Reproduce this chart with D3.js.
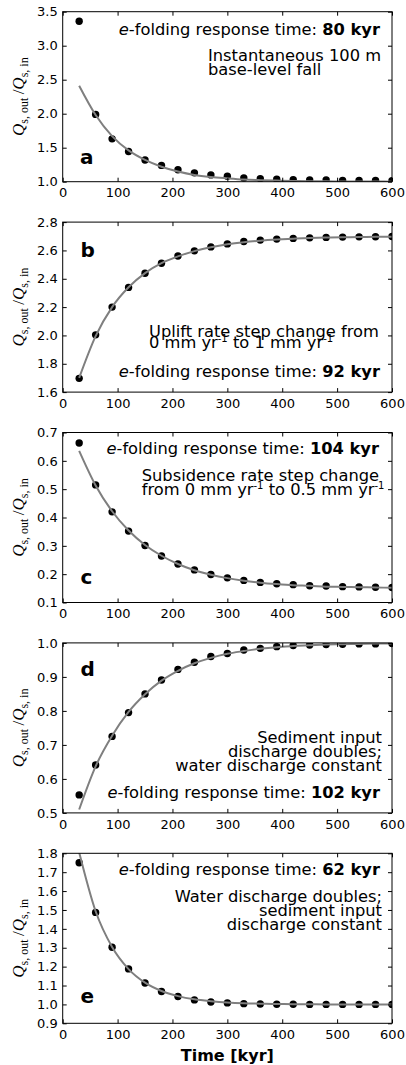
<!DOCTYPE html>
<html>
<head>
<meta charset="utf-8">
<script src="https://cdn.jsdelivr.net/npm/d3@7"></script>
<style>
  body { margin: 0; background: #fff; }
  svg { display: block; }
</style>
</head>
<body>
<svg id="chart" width="406" height="1065"></svg>
<script>
// model output times [kyr]
const timeKyr = [30, 60, 90, 120, 150, 180, 210, 240, 270, 300, 330, 360, 390, 420, 450, 480, 510, 540, 570, 600]

// Qs,out / Qs,in from the model (dots) and the e-folding fit (grey line)
const modelA = [3.36, 1.99, 1.63, 1.445, 1.32, 1.24, 1.176, 1.13, 1.10, 1.08, 1.055, 1.045, 1.035, 1.029, 1.025, 1.025, 1.02, 1.02, 1.02, 1.015]
const fitA = [2.41, 1.98, 1.67, 1.46, 1.32, 1.22, 1.15, 1.10, 1.07, 1.05, 1.033, 1.023, 1.016, 1.011, 1.008, 1.005, 1.004, 1.003, 1.002, 1.001]

const modelB = [1.697, 2.004, 2.20, 2.339, 2.439, 2.51, 2.561, 2.597, 2.625, 2.646, 2.663, 2.673, 2.68, 2.685, 2.689, 2.692, 2.694, 2.696, 2.697, 2.698]
const fitB = [1.70, 1.995, 2.20, 2.34, 2.44, 2.51, 2.558, 2.595, 2.622, 2.643, 2.658, 2.669, 2.677, 2.683, 2.688, 2.691, 2.693, 2.695, 2.696, 2.697]

const modelC = [0.663, 0.515, 0.42, 0.352, 0.301, 0.264, 0.236, 0.215, 0.199, 0.187, 0.178, 0.171, 0.166, 0.163, 0.159, 0.158, 0.156, 0.155, 0.154, 0.153]
const fitC = [0.635, 0.513, 0.422, 0.354, 0.303, 0.265, 0.236, 0.214, 0.198, 0.186, 0.177, 0.170, 0.165, 0.161, 0.159, 0.156, 0.155, 0.154, 0.153, 0.152]

const modelD = [0.553, 0.641, 0.725, 0.795, 0.850, 0.891, 0.922, 0.943, 0.960, 0.969, 0.979, 0.984, 0.989, 0.992, 0.994, 0.995, 0.996, 0.997, 0.997, 0.998]
const fitD = [0.51, 0.637, 0.727, 0.797, 0.849, 0.889, 0.918, 0.940, 0.956, 0.968, 0.976, 0.983, 0.987, 0.991, 0.993, 0.995, 0.996, 0.997, 0.998, 0.998]

const modelE = [1.750, 1.487, 1.303, 1.188, 1.113, 1.068, 1.042, 1.024, 1.013, 1.008, 1.004, 1.002, 1.001, 1.001, 1.0, 1.0, 1.0, 1.0, 1.0, 1.0]
const fitE = [1.805, 1.493, 1.304, 1.187, 1.115, 1.071, 1.044, 1.027, 1.017, 1.010, 1.006, 1.004, 1.002, 1.0015, 1.001, 1.0, 1.0, 1.0, 1.0, 1.0]

const panelLetters = ['a', 'b', 'c', 'd', 'e']
const efoldKyr = [80, 92, 104, 102, 62]
const yDomains = [[1.0, 3.5], [1.6, 2.8], [0.1, 0.7], [0.5, 1.0], [0.9, 1.8]]
const yTickValues = [
  [1.0, 1.5, 2.0, 2.5, 3.0, 3.5],
  [1.6, 1.8, 2.0, 2.2, 2.4, 2.6, 2.8],
  [0.1, 0.2, 0.3, 0.4, 0.5, 0.6, 0.7],
  [0.5, 0.6, 0.7, 0.8, 0.9, 1.0],
  [0.9, 1.0, 1.1, 1.2, 1.3, 1.4, 1.5, 1.6, 1.7, 1.8]
]
const xTickValues = [0, 100, 200, 300, 400, 500, 600]
const descLines = [
  ['Instantaneous 100 m', 'base-level fall'],
  ['Uplift rate step change from', '0 mm yr^-1 to 1 mm yr^-1'],
  ['Subsidence rate step change', 'from 0 mm yr^-1 to 0.5 mm yr^-1'],
  ['Sediment input', 'discharge doubles;', 'water discharge constant'],
  ['Water discharge doubles;', 'sediment input', 'discharge constant']
]
const xLabel = 'Time [kyr]'

const modelSeries = [modelA, modelB, modelC, modelD, modelE]
const fitSeries = [fitA, fitB, fitC, fitD, fitE]

// text placement inside each panel (y relative to panel top)
const layout = [
  { efold: [380, 23.3], desc: { x: 208, anchor: 'start', y: 49.3, lh: 13.5 }, letter: [80, 152.7] },
  { efold: [380, 155], desc: { x: 149, anchor: 'start', y: 114.4, lh: 11.6 }, letter: [80.5, 34.4] },
  { efold: [379, 21.7], desc: { x: 141.7, anchor: 'start', y: 48.4, lh: 13.8 }, letter: [80.5, 151] },
  { efold: [380, 155], desc: { x: 382, anchor: 'end', y: 100, lh: 14.1 }, letter: [80.5, 33.4] },
  { efold: [380, 21.7], desc: { x: 382, anchor: 'end', y: 48.4, lh: 14.3 }, letter: [80.5, 150] }
]

const SANS = 'DejaVu Sans, sans-serif'
const SERIF = 'Liberation Serif, DejaVu Serif, serif'
const left = 62.7
const right = 392
const plotH = 170
const top0 = 11.7
const step = 210.4

const svg = d3.select('#chart')

const x = d3.scaleLinear().domain([0, 600]).range([left, right])

// one <text> per block, a tspan row per line; "^-1" marks a superscript
const addLines = (sel, lines, xPos, lh) => {
  lines.forEach((str, k) => {
    const parts = str.split(/(\^-1)/).filter(p => p)
    let shift = 0
    parts.forEach((p, j) => {
      const t = sel.append('tspan')
      if (j === 0) t.attr('x', xPos).attr('dy', k === 0 ? 0 : lh - shift)
      if (p === '^-1') {
        t.attr('font-size', 10).attr('dy', -6).text('-1')
        shift = -6
      } else {
        if (j > 0 && shift) { t.attr('dy', 6); shift = 0 }
        t.text(p)
      }
    })
  })
}

panelLetters.forEach((letter, i) => {
  const top = top0 + i * step
  const bottom = top + plotH
  const y = d3.scaleLinear().domain(yDomains[i]).range([bottom, top])
  const g = svg.append('g')
  const lay = layout[i]

  const clipId = `clip-${i}`
  svg.append('clipPath').attr('id', clipId)
    .append('rect')
    .attr('x', left).attr('y', top)
    .attr('width', right - left).attr('height', plotH)

  const pts = timeKyr.map((t, k) => ({ t, v: modelSeries[i][k], f: fitSeries[i][k] }))

  // model dots
  g.append('g').attr('clip-path', `url(#${clipId})`)
    .selectAll('circle').data(pts).enter()
    .append('circle')
    .attr('cx', d => x(d.t))
    .attr('cy', d => y(d.v))
    .attr('r', 3.7)
    .attr('fill', '#000')

  // e-folding fit
  const line = d3.line().x(d => x(d.t)).y(d => y(d.f)).curve(d3.curveMonotoneX)
  g.append('path')
    .datum(pts)
    .attr('clip-path', `url(#${clipId})`)
    .attr('d', line)
    .attr('fill', 'none')
    .attr('stroke', '#7f7f7f')
    .attr('stroke-width', 2)

  // axes, ticks pointing inward on all four sides
  const styleAxis = ax => {
    ax.select('.domain').remove()
    ax.selectAll('line').attr('stroke', '#000').attr('stroke-width', 1)
    ax.selectAll('text').attr('font-family', SANS).attr('font-size', 13).attr('fill', '#000')
  }
  g.append('g').attr('transform', `translate(0,${bottom})`)
    .call(d3.axisBottom(x).tickValues(xTickValues).tickSize(-4).tickPadding(6.4).tickFormat(d3.format('d')))
    .call(styleAxis)
  g.append('g').attr('transform', `translate(0,${top})`)
    .call(d3.axisTop(x).tickValues(xTickValues).tickSize(-4).tickFormat(''))
    .call(styleAxis)
  g.append('g').attr('transform', `translate(${left},0)`)
    .call(d3.axisLeft(y).tickValues(yTickValues[i]).tickSize(-4).tickPadding(5).tickFormat(d3.format('.1f')))
    .call(styleAxis)
  g.append('g').attr('transform', `translate(${right},0)`)
    .call(d3.axisRight(y).tickValues(yTickValues[i]).tickSize(-4).tickFormat(''))
    .call(styleAxis)

  g.append('rect')
    .attr('x', left).attr('y', top)
    .attr('width', right - left).attr('height', plotH)
    .attr('fill', 'none').attr('stroke', '#000').attr('stroke-width', 1)

  // y label  Q_s,out / Q_s,in
  const cy = top + plotH / 2
  const yl = g.append('text')
    .attr('transform', `translate(24,${cy}) rotate(-90)`)
    .attr('text-anchor', 'middle')
    .attr('font-family', SERIF)
    .attr('fill', '#000')
  yl.append('tspan').attr('font-style', 'italic').attr('font-size', 17).text('Q')
  yl.append('tspan').attr('font-size', 12).attr('dy', 3.5).text('s, out')
  yl.append('tspan').attr('font-size', 17).attr('dy', -3.5).text('\u2009/')
  yl.append('tspan').attr('font-style', 'italic').attr('font-size', 17).text('Q')
  yl.append('tspan').attr('font-size', 12).attr('dy', 3.5).text('s, in')

  // panel letter
  g.append('text')
    .attr('x', lay.letter[0]).attr('y', top + lay.letter[1])
    .attr('font-family', SANS).attr('font-weight', 'bold').attr('font-size', 20)
    .text(letter)

  // e-folding response time
  const ef = g.append('text')
    .attr('x', lay.efold[0]).attr('y', top + lay.efold[1])
    .attr('text-anchor', 'end')
    .attr('font-family', SANS).attr('font-size', 16.3).attr('fill', '#000')
  ef.append('tspan').attr('font-style', 'italic').text('e')
  ef.append('tspan').text('-folding response time: ')
  ef.append('tspan').attr('font-weight', 'bold').text(`${efoldKyr[i]} kyr`)

  // scenario description
  const desc = g.append('text')
    .attr('x', lay.desc.x).attr('y', top + lay.desc.y)
    .attr('text-anchor', lay.desc.anchor)
    .attr('font-family', SANS).attr('font-size', 16.3).attr('fill', '#000')
  addLines(desc, descLines[i], lay.desc.x, lay.desc.lh)

  if (i === panelLetters.length - 1) {
    g.append('text')
      .attr('x', (left + right) / 2).attr('y', bottom + 38)
      .attr('text-anchor', 'middle')
      .attr('font-family', SANS).attr('font-weight', 'bold').attr('font-size', 16)
      .text(xLabel)
  }
})
</script>
</body>
</html>
